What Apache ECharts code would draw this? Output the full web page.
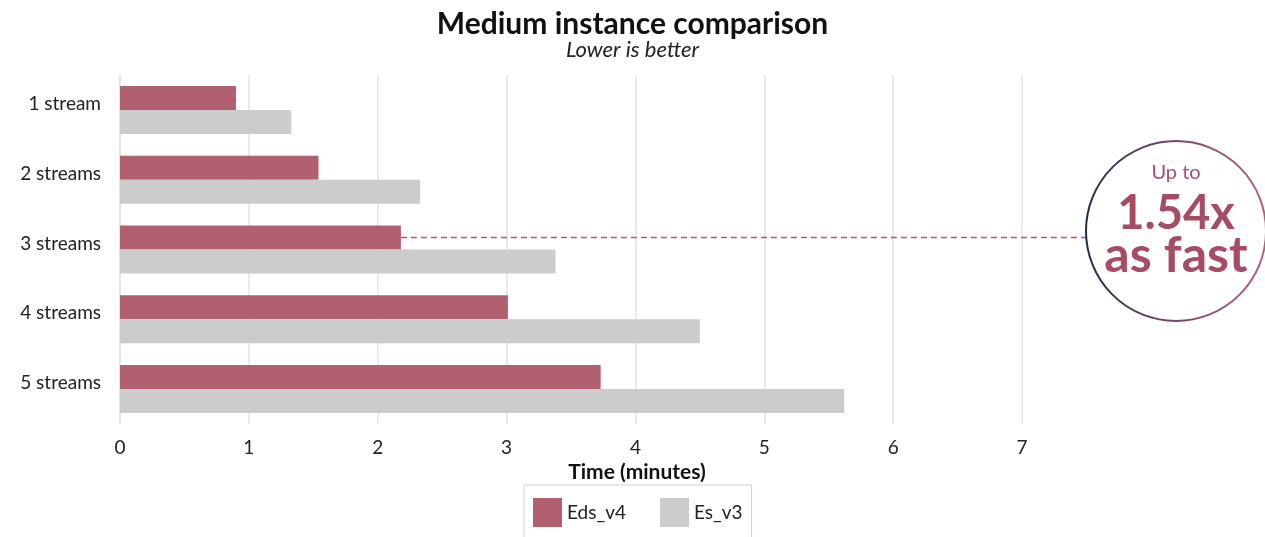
<!DOCTYPE html>
<html><head><meta charset="utf-8">
<script src="https://cdn.jsdelivr.net/npm/echarts@6/dist/echarts.min.js"></script>
<style>html,body{margin:0;padding:0;background:#fff}#c{width:1265px;height:537px}</style>
</head><body><div id="c"></div>
<script>
const categories = ['1 stream', '2 streams', '3 streams', '4 streams', '5 streams'];
const edsV4 = [0.90, 1.54, 2.18, 3.01, 3.73];
const esV3 = [1.33, 2.33, 3.38, 4.50, 5.62];
const xTicks = [0, 1, 2, 3, 4, 5, 6, 7];
const FONT = 'Lato';
const chart = echarts.init(document.getElementById('c'));
chart.setOption({
  backgroundColor: '#fff',
  animation: false,
  textStyle: { fontFamily: FONT },
  title: {
    text: 'Medium instance comparison',
    subtext: 'Lower is better',
    left: 'center', top: 4, itemGap: 0,
    textStyle: { fontFamily: FONT, fontSize: 30, fontWeight: 'bold', color: '#111' },
    subtextStyle: { fontFamily: FONT, fontSize: 22, fontStyle: 'italic', color: '#222' }
  },
  legend: {
    data: ['Eds_v4', 'Es_v3'],
    left: 524, top: 485,
    orient: 'horizontal',
    itemWidth: 29, itemHeight: 29, itemGap: 34,
    icon: 'rect',
    borderColor: '#d0d0d0', borderWidth: 1,
    padding: [13, 9, 20, 9],
    textStyle: { fontFamily: FONT, fontSize: 19, color: '#222' }
  },
  grid: { left: 120, right: 243, top: 75, bottom: 113, containLabel: false },
  xAxis: {
    type: 'value', min: xTicks[0], max: xTicks[xTicks.length - 1], interval: 1,
    name: 'Time (minutes)', nameLocation: 'middle', nameGap: 28,
    nameTextStyle: { fontFamily: FONT, fontSize: 21, fontWeight: 'bold', color: '#111', padding: [0, 0, 0, 132] },
    axisLine: { show: false }, axisTick: { show: false },
    axisLabel: { fontFamily: FONT, fontSize: 19, color: '#222', margin: 14 },
    splitLine: { show: true, lineStyle: { color: '#e3e3e3', width: 1.5 } }
  },
  yAxis: {
    type: 'category', data: categories, inverse: true,
    axisLine: { show: true, lineStyle: { color: '#e3e3e3', width: 1.5 } },
    axisTick: { show: false },
    axisLabel: { fontFamily: FONT, fontSize: 19, color: '#222', margin: 19, verticalAlign: 'bottom', lineHeight: 12 }
  },
  series: [
    { name: 'Eds_v4', type: 'bar', data: edsV4, barWidth: 24, barGap: '0%',
      itemStyle: { color: '#b06070' } },
    { name: 'Es_v3', type: 'bar', data: esV3, barWidth: 24, barGap: '0%',
      itemStyle: { color: '#cccccc' } }
  ]
});

// annotation: circle callout + dashed leader line from the 3-streams Eds_v4 bar
const cx = 1176, cy = 231, r = 90;
const lay = chart.getModel().getSeriesByIndex(0).getData().getItemLayout(2);
const barEndX = lay.x + lay.width;
const barMidY = lay.y + lay.height / 2;
chart.setOption({
  graphic: [
    { type: 'line', shape: { x1: barEndX, y1: barMidY, x2: cx - r, y2: barMidY },
      style: { stroke: '#b05a72', lineWidth: 1.4, lineDash: [6, 4] }, z: 10 },
    { type: 'circle', shape: { cx: cx, cy: cy, r: r },
      style: { fill: 'rgba(255,255,255,0)', lineWidth: 2,
        stroke: new echarts.graphic.LinearGradient(0, 0, 1, 0, [
          { offset: 0, color: '#1c2e4a' }, { offset: 0.5, color: '#7a4a66' }, { offset: 1, color: '#b5627a' }
        ]) }, z: 10 },
    { type: 'text', x: cx, y: 173, style: { text: 'Up to', font: '20px ' + FONT, fill: '#a8506a', align: 'center', verticalAlign: 'middle' }, z: 11 },
    { type: 'text', x: cx, y: 214, style: { text: '1.54x', font: 'bold 47px ' + FONT, fill: '#a64d65', align: 'center', verticalAlign: 'middle' }, z: 11 },
    { type: 'text', x: cx, y: 256, style: { text: 'as fast', font: 'bold 50px ' + FONT, fill: '#a64d65', align: 'center', verticalAlign: 'middle' }, z: 11 }
  ]
});
</script></body></html>
